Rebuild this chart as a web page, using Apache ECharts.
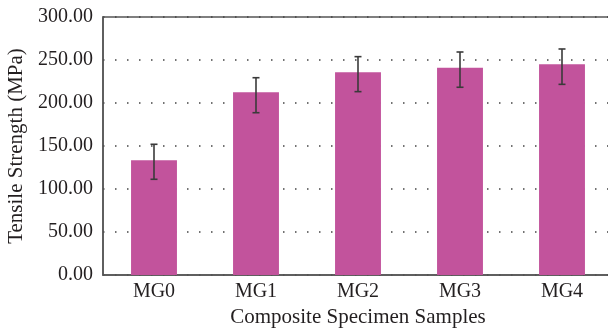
<!DOCTYPE html>
<html>
<head>
<meta charset="utf-8">
<script src="https://cdn.jsdelivr.net/npm/echarts@6/dist/echarts.min.js"></script>
<style>html,body{margin:0;padding:0;background:#fff}#c{width:608px;height:334px}</style>
</head>
<body>
<div id="c"></div>
<script>
var categories = ['MG0', 'MG1', 'MG2', 'MG3', 'MG4'];
var strength = [133.3, 212.4, 235.7, 241.0, 245.0];
var errUpper = [152.0, 229.4, 253.9, 259.3, 262.8];
var errLower = [111.3, 188.7, 213.2, 218.3, 221.7];
var yTicks = [0, 50, 100, 150, 200, 250, 300];

var FONT = '"Liberation Serif", "DejaVu Serif", serif';
var TXT = '#231f20';

var errData = categories.map(function (c, i) { return [i, errLower[i], errUpper[i]]; });

var chart = echarts.init(document.getElementById('c'), null, {renderer: 'canvas'});
chart.setOption({
  animation: false,
  backgroundColor: '#fff',
  grid: {left: 103, top: 17, width: 510, height: 258, outerBoundsMode: 'none', containLabel: false,
    show: true, borderColor: '#555', borderWidth: 1.5, backgroundColor: 'transparent'},
  xAxis: {
    type: 'category',
    data: categories,
    name: 'Composite Specimen Samples',
    nameLocation: 'middle',
    nameGap: 26,
    nameTextStyle: {fontFamily: FONT, fontSize: 21, color: TXT},
    axisLine: {lineStyle: {color: '#555', width: 1.5}},
    axisTick: {show: false},
    axisLabel: {fontFamily: FONT, fontSize: 20, color: TXT, margin: 7},
    splitLine: {show: false}
  },
  yAxis: {
    type: 'value',
    min: yTicks[0],
    max: yTicks[yTicks.length - 1],
    interval: 50,
    name: 'Tensile Strength (MPa)',
    nameLocation: 'middle',
    nameGap: 75,
    nameTextStyle: {fontFamily: FONT, fontSize: 21, color: TXT},
    axisLine: {show: true, lineStyle: {color: '#555', width: 1.5}},
    axisTick: {show: false},
    axisLabel: {fontFamily: FONT, fontSize: 20, color: TXT, margin: 10,
      formatter: function (v) { return v.toFixed(2); }},
    splitLine: {show: true, lineStyle: {color: '#444', width: 1.5, type: [1.5, 10.5]}}
  },
  series: [
    {
      type: 'bar',
      data: strength,
      barWidth: '45%',
      itemStyle: {color: '#C2539C'},
      z: 3
    },
    {
      type: 'custom',
      data: errData,
      z: 5,
      renderItem: function (params, api) {
        var x = api.value(0);
        var lo = api.coord([x, api.value(1)]);
        var hi = api.coord([x, api.value(2)]);
        var hw = 3.5;
        var st = {stroke: '#3a3a3a', lineWidth: 1.6};
        return {
          type: 'group',
          children: [
            {type: 'line', shape: {x1: hi[0], y1: hi[1], x2: lo[0], y2: lo[1]}, style: st},
            {type: 'line', shape: {x1: hi[0] - hw, y1: hi[1], x2: hi[0] + hw, y2: hi[1]}, style: st},
            {type: 'line', shape: {x1: lo[0] - hw, y1: lo[1], x2: lo[0] + hw, y2: lo[1]}, style: st}
          ]
        };
      }
    }
  ]
});
</script>
</body>
</html>
